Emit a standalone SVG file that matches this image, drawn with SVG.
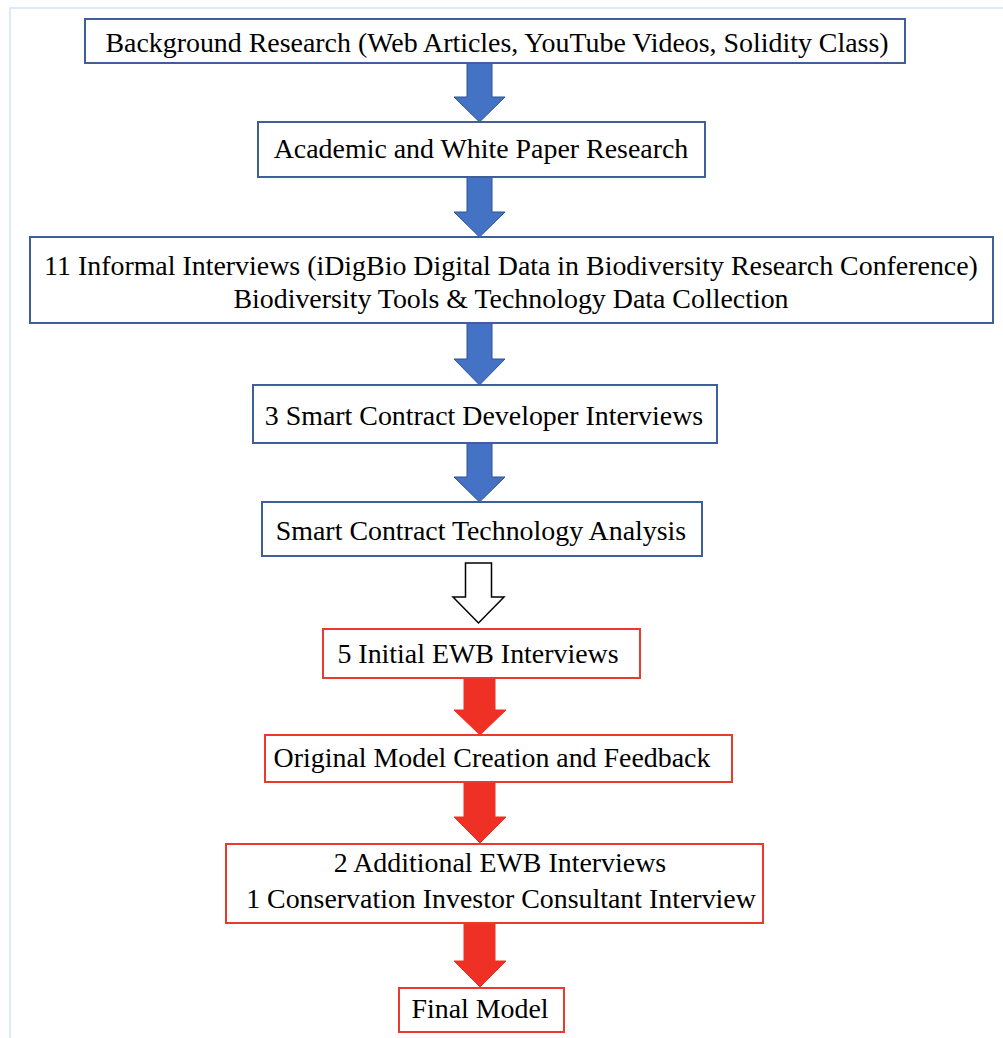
<svg xmlns="http://www.w3.org/2000/svg" width="1003" height="1038" viewBox="0 0 1003 1038">
  <style>
    .frame { fill: none; stroke: #d3e3f6; stroke-width: 1.5; }
    .box-blue { fill: #ffffff; stroke: #3e5f99; stroke-width: 2; }
    .box-red { fill: #ffffff; stroke: #ea3a2e; stroke-width: 2; }
    .label { font-family: "Liberation Serif", "Times New Roman", serif; font-size: 27.9px; fill: #000000; text-anchor: middle; }
    .arrow-blue { fill: #4472c4; stroke: #2f528f; stroke-width: 1; }
    .arrow-white { fill: #ffffff; stroke: #000000; stroke-width: 1.5; }
    .arrow-red { fill: #ee3124; stroke: #ee3124; stroke-width: 1; }
  </style>

  <rect width="1003" height="1038" fill="#ffffff"/>
  <path class="frame" d="M 10 1038 L 10 8 L 1003 8"/>

  <!-- downward block arrows between the steps -->
  <g id="connectors">
    <path class="arrow-blue" d="M 467 63 L 492 63 L 492 97 L 505 97 L 479.5 122 L 454 97 L 467 97 Z"/>
    <path class="arrow-blue" d="M 467 177 L 492 177 L 492 212 L 505 212 L 479.5 237 L 454 212 L 467 212 Z"/>
    <path class="arrow-blue" d="M 467 323 L 492 323 L 492 359 L 505 359 L 479.5 385 L 454 359 L 467 359 Z"/>
    <path class="arrow-blue" d="M 467 443 L 492 443 L 492 477 L 505 477 L 479.5 502 L 454 477 L 467 477 Z"/>
    <path class="arrow-white" d="M 465.5 563 L 491.5 563 L 491.5 597 L 504 597 L 478.5 623 L 453 597 L 465.5 597 Z"/>
    <path class="arrow-red" d="M 464 678 L 495 678 L 495 710 L 506 710 L 480 735 L 454 710 L 464 710 Z"/>
    <path class="arrow-red" d="M 464 782 L 495 782 L 495 817 L 506 817 L 480 843 L 454 817 L 464 817 Z"/>
    <path class="arrow-red" d="M 464 923 L 495 923 L 495 961 L 506 961 L 480 987 L 454 961 L 464 961 Z"/>
  </g>

  <g id="background-research">
    <rect class="box-blue" x="85" y="19" width="820" height="44"/>
    <text class="label" x="497" y="52">Background Research (Web Articles, YouTube Videos, Solidity Class)</text>
  </g>

  <g id="academic-research">
    <rect class="box-blue" x="258" y="122" width="447" height="55"/>
    <text class="label" x="481" y="158">Academic and White Paper Research</text>
  </g>

  <g id="informal-interviews">
    <rect class="box-blue" x="30" y="237" width="963" height="86"/>
    <text class="label" x="511" y="275">11 Informal Interviews (iDigBio Digital Data in Biodiversity Research Conference)</text>
    <text class="label" x="511" y="308">Biodiversity Tools &amp; Technology Data Collection</text>
  </g>

  <g id="developer-interviews">
    <rect class="box-blue" x="253" y="385" width="464" height="58"/>
    <text class="label" x="484" y="425">3 Smart Contract Developer Interviews</text>
  </g>

  <g id="technology-analysis">
    <rect class="box-blue" x="262" y="502" width="440" height="54"/>
    <text class="label" x="481" y="540">Smart Contract Technology Analysis</text>
  </g>

  <g id="initial-ewb-interviews">
    <rect class="box-red" x="323" y="629" width="317" height="49"/>
    <text class="label" x="478" y="663">5 Initial EWB Interviews</text>
  </g>

  <g id="original-model">
    <rect class="box-red" x="265" y="735" width="467" height="47"/>
    <text class="label" x="492" y="767">Original Model Creation and Feedback</text>
  </g>

  <g id="additional-interviews">
    <rect class="box-red" x="226" y="844" width="537" height="79"/>
    <text class="label" x="500" y="872">2 Additional EWB Interviews</text>
    <text class="label" x="501" y="908">1 Conservation Investor Consultant Interview</text>
  </g>

  <g id="final-model">
    <rect class="box-red" x="399" y="988" width="165" height="44"/>
    <text class="label" x="480" y="1018">Final Model</text>
  </g>
</svg>
